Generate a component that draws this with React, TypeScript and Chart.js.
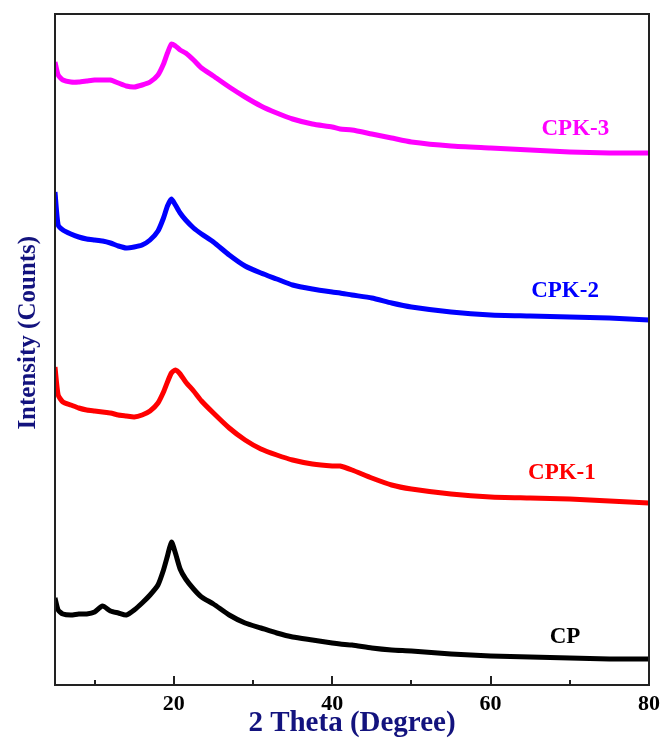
import React, { useEffect, useRef } from "react";
import { Chart, registerables } from "chart.js";

Chart.register(...registerables);

// 2θ positions (degrees)
const thetaValues = [
  5, 5.4, 6, 7, 8, 9, 10, 11, 12, 13,
  14, 15, 16, 17, 18, 18.7, 19.2, 19.7, 20.2, 20.8,
  21.5, 22.5, 23.5, 25, 27, 29, 31, 33, 35, 37.5,
  40, 41, 42.5, 45, 47.5, 50, 55, 60, 65, 70,
  75, 80,
];

// Intensity (arbitrary, stacked offsets)
const cpCounts = [
  87, 75, 71, 70, 71, 71, 73, 79, 74, 72,
  70, 75, 82, 90, 100, 115, 129, 143, 132, 116,
  106, 96, 88, 81, 70, 62, 57, 52, 48, 45,
  42, 41, 40, 37, 35, 34, 31, 29, 28, 27,
  26, 26,
];
const cpk1Counts = [
  318, 290, 283, 280, 277, 275, 274, 273, 272, 270,
  269, 268, 270, 274, 282, 293, 303, 312, 315, 311,
  303, 294, 284, 272, 257, 245, 236, 230, 225, 221,
  219, 219, 215, 207, 200, 196, 191, 188, 187, 186,
  184, 182,
];
const cpk2Counts = [
  493, 460, 455, 451, 448, 446, 445, 444, 442, 439,
  437, 438, 440, 445, 454, 467, 479, 486, 480, 472,
  465, 457, 451, 443, 430, 419, 412, 406, 400, 396,
  393, 392, 390, 387, 382, 378, 373, 370, 369, 368,
  367, 365,
];
const cpk3Counts = [
  623, 610, 605, 603, 603, 604, 605, 605, 605, 602,
  599, 598, 600, 603, 610, 621, 632, 641, 639, 635,
  632, 625, 617, 609, 598, 588, 579, 572, 566, 561,
  558, 556, 555, 551, 547, 543, 539, 537, 535, 533,
  532, 532,
];

const seriesNames = ["CP", "CPK-1", "CPK-2", "CPK-3"];
const seriesColors = ["#000000", "#ff0000", "#0000ff", "#ff00ff"];
const labelX = [69.4, 69.0, 69.4, 70.7];
const labelY = [48, 212, 394, 556];

const xTickValues = [20, 40, 60, 80];
const xMinorTickValues = [10, 30, 50, 70];
const xMin = 5;
const xMax = 80;
const yMin = 0;
const yMax = 671;

const navy = "#13137e";
const serif = "'Liberation Serif', 'Times New Roman', serif";

export default function App() {
  const canvasRef = useRef<HTMLCanvasElement>(null);

  useEffect(() => {
    const canvas = canvasRef.current;
    if (!canvas) return;
    const series = [cpCounts, cpk1Counts, cpk2Counts, cpk3Counts];

    const framePlugin = {
      id: "frameAndLabels",
      afterDatasetsDraw(chart: any) {
        const { ctx, chartArea: a, scales } = chart;
        const xs = scales.x;
        const ys = scales.y;
        ctx.save();
        ctx.strokeStyle = "#222222";
        ctx.lineWidth = 2;
        ctx.strokeRect(a.left, a.top, a.right - a.left, a.bottom - a.top);
        ctx.beginPath();
        xTickValues.forEach((v) => {
          const px = Math.round(xs.getPixelForValue(v));
          ctx.moveTo(px, a.bottom);
          ctx.lineTo(px, a.bottom - 9);
        });
        xMinorTickValues.forEach((v) => {
          const px = Math.round(xs.getPixelForValue(v));
          ctx.moveTo(px, a.bottom);
          ctx.lineTo(px, a.bottom - 5);
        });
        ctx.stroke();

        ctx.font = `bold 23px ${serif}`;
        ctx.textAlign = "center";
        ctx.textBaseline = "middle";
        seriesNames.forEach((name, i) => {
          ctx.fillStyle = seriesColors[i];
          ctx.fillText(name, xs.getPixelForValue(labelX[i]), ys.getPixelForValue(labelY[i]));
        });

        ctx.translate(29, a.top + (a.bottom - a.top) * 0.475);
        ctx.rotate(-Math.PI / 2);
        ctx.font = `bold 25px ${serif}`;
        ctx.fillStyle = navy;
        ctx.fillText("Intensity (Counts)", 0, 0);
        ctx.restore();
      },
    };

    const chart = new Chart(canvas, {
      type: "line",
      data: {
        datasets: series.map((vals, i) => ({
          label: seriesNames[i],
          data: thetaValues.map((t, j) => ({ x: t, y: vals[j] })),
          borderColor: seriesColors[i],
          backgroundColor: seriesColors[i],
          borderWidth: 5,
          pointRadius: 0,
          tension: 0.2,
          fill: false,
        })),
      },
      options: {
        responsive: false,
        animation: false,
        layout: { padding: { top: 14, right: 13, left: 0, bottom: 0 } },
        plugins: {
          legend: { display: false },
          tooltip: { enabled: false },
        },
        scales: {
          x: {
            type: "linear",
            min: xMin,
            max: xMax,
            grid: { display: false, drawTicks: false },
            border: { display: false },
            afterBuildTicks: (scale: any) => {
              scale.ticks = xTickValues.map((v) => ({ value: v }));
            },
            afterFit: (scale: any) => {
              scale.height = 54;
              scale.paddingLeft = 0;
              scale.paddingRight = 0;
            },
            ticks: {
              color: "#000000",
              padding: 6,
              maxRotation: 0,
              font: { family: serif, size: 22, weight: "bold" },
            },
            title: {
              display: true,
              text: "2 Theta (Degree)",
              color: navy,
              padding: { top: 0, bottom: 0 },
              font: { family: serif, size: 29, weight: "bold", lineHeight: 1.1 },
            },
          },
          y: {
            type: "linear",
            min: yMin,
            max: yMax,
            grid: { display: false },
            border: { display: false },
            ticks: { display: false },
            afterFit: (scale: any) => {
              scale.width = 55;
            },
          },
        },
      },
      plugins: [framePlugin],
    });

    return () => chart.destroy();
  }, []);

  return (
    <div style={{ position: "absolute", left: 0, top: 0, width: 662, height: 739, background: "#ffffff" }}>
      <canvas ref={canvasRef} width={662} height={739} />
    </div>
  );
}
